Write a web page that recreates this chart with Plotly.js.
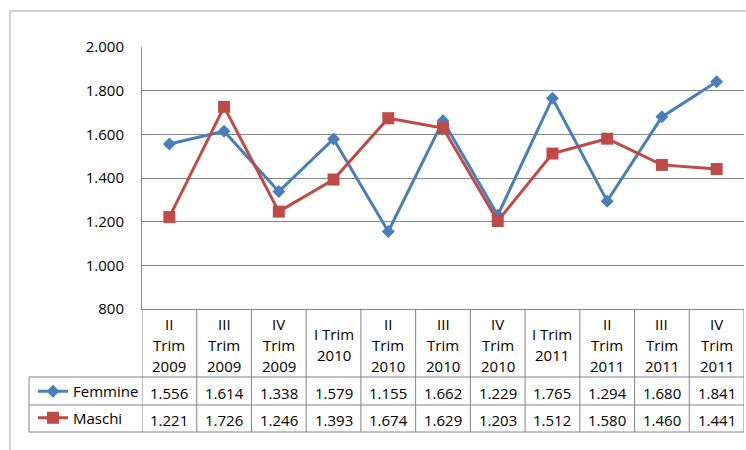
<!DOCTYPE html>
<html>
<head>
<meta charset="utf-8">
<script src="https://cdn.plot.ly/plotly-3.0.1.min.js"></script>
<style>html,body{margin:0;padding:0;background:#fff;}#chart{width:746px;height:450px;}</style>
</head>
<body>
<div id="chart"></div>
<script>
// ---- data ----
const categories = ["II<br>Trim<br>2009","III<br>Trim<br>2009","IV<br>Trim<br>2009","I Trim<br>2010","II<br>Trim<br>2010","III<br>Trim<br>2010","IV<br>Trim<br>2010","I Trim<br>2011","II<br>Trim<br>2011","III<br>Trim<br>2011","IV<br>Trim<br>2011"];
const femmine = [1556,1614,1338,1579,1155,1662,1229,1765,1294,1680,1841];
const maschi  = [1221,1726,1246,1393,1674,1629,1203,1512,1580,1460,1441];
const seriesNames = ["Femmine","Maschi"];
const yTicks = [800,1000,1200,1400,1600,1800,2000];

// ---- geometry ----
const W = 746, H = 450;
const L = 142, R = 744, T = 47, B = 309;
const FONT = "'Open Sans', Lato, sans-serif";
const FS = 15;
const gridCol = "#868686";
const px = x => (x - L) / (R - L);
const py = y => (B - y) / (B - T);

function fmt(v){ return Math.floor(v/1000) + "." + String(v % 1000).padStart(3,"0"); }

const traces = [
  {x: categories, y: femmine, name: seriesNames[0], type: "scatter", mode: "lines+markers",
   line: {color: "#4A7EBB", width: 3}, marker: {symbol: "diamond", size: 10, color: "#4A7EBB"},
   legendgroup: "f"},
  {x: categories, y: maschi, name: seriesNames[1], type: "scatter", mode: "lines+markers",
   line: {color: "#BE4B48", width: 3}, marker: {symbol: "square", size: 12, color: "#BE4B48"},
   legendgroup: "m"}
];

const shapes = [];
const lineStyle = {color: gridCol, width: 1};
// outer chart border
shapes.push({type:"line", xref:"paper", yref:"paper", x0: px(10), x1: px(746), y0: py(11), y1: py(11), line:{color:"#a6a6a6", width:1}});
shapes.push({type:"line", xref:"paper", yref:"paper", x0: px(10), x1: px(10), y0: py(11), y1: py(450), line:{color:"#a6a6a6", width:1}});
// table horizontal lines
[377, 405, 432].forEach(y => shapes.push({type:"line", xref:"paper", yref:"paper", x0: px(29), x1: 1, y0: py(y), y1: py(y), line: lineStyle}));
// table left edge
shapes.push({type:"line", xref:"paper", yref:"paper", x0: px(29), x1: px(29), y0: py(377), y1: py(432), line: lineStyle});
// category boundaries
for (let i = 0; i <= categories.length; i++) {
  shapes.push({type:"line", xref:"x", yref:"paper", x0: i - 0.5, x1: i - 0.5, y0: 0, y1: py(432), line: lineStyle});
}

const annotations = [];
const tfont = {family: FONT, size: FS, color: "#000"};
categories.forEach((c, i) => {
  const lines = c.split("<br>");
  const n = lines.length;
  lines.forEach((ln, j) => {
    const cy = 344.5 + (j - (n - 1) / 2) * 21;
    annotations.push({xref:"x", yref:"paper", x: i, y: 0, yshift: -(cy - B), yanchor:"middle", xanchor:"center",
      text: ln, showarrow:false, font: tfont});
  });
  annotations.push({xref:"x", yref:"paper", x: i, y: 0, yshift: -(393 - B), yanchor:"middle", xanchor:"center",
    text: fmt(femmine[i]), showarrow:false, font: tfont});
  annotations.push({xref:"x", yref:"paper", x: i, y: 0, yshift: -(420 - B), yanchor:"middle", xanchor:"center",
    text: fmt(maschi[i]), showarrow:false, font: tfont});
});

const layout = {
  width: W, height: H,
  margin: {l: L, r: W - R, t: T, b: H - B, pad: 0},
  paper_bgcolor: "#fff", plot_bgcolor: "#fff",
  separators: ",.",
  font: {family: FONT, size: FS, color: "#000"},
  showlegend: true,
  legend: {x: px(33), y: py(375), xanchor: "left", yanchor: "top", orientation: "v",
    traceorder: "grouped", tracegroupgap: 4, font: {family: FONT, size: FS, color: "#000"},
    bgcolor: "rgba(0,0,0,0)", borderwidth: 0},
  xaxis: {type: "category", range: [-0.5, categories.length - 0.5], showticklabels: false,
    showgrid: false, zeroline: false, showline: true, linecolor: gridCol, linewidth: 1, ticks: "", fixedrange: true},
  yaxis: {range: [800, 2000], tickvals: yTicks, tickformat: ",d", showgrid: true, gridcolor: gridCol, gridwidth: 1,
    zeroline: false, showline: true, linecolor: gridCol, linewidth: 1, ticks: "", ticklabelstandoff: 14,
    tickfont: {family: FONT, size: FS, color: "#000"}, fixedrange: true},
  shapes: shapes,
  annotations: annotations
};

Plotly.newPlot("chart", traces, layout, {displayModeBar: false, staticPlot: true});
</script>
</body>
</html>
